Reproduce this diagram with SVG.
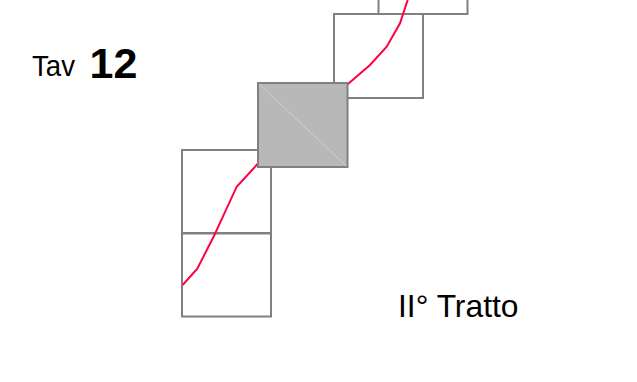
<svg xmlns="http://www.w3.org/2000/svg" width="637" height="382" viewBox="0 0 637 382">
<style>
.box{fill:#ffffff;stroke:#808080;stroke-width:2}
.gray{fill:#b8b8b8;stroke:#808080;stroke-width:2}
.curve{fill:none;stroke:#ff0040;stroke-width:2}
.lbl{font-family:"Liberation Sans",Arial,sans-serif;fill:#000000}
</style>
<rect width="637" height="382" fill="#ffffff"/>
<g id="box-top"><rect class="box" x="378.5" y="-70" width="89" height="84"/></g>
<g id="box-upper"><rect class="box" x="334" y="14" width="89" height="84"/></g>
<g id="box-low1"><rect class="box" x="182" y="150" width="89" height="83"/></g>
<g id="box-low2"><rect class="box" x="182" y="233.5" width="89" height="83"/></g>
<g id="connectors">
<polyline class="curve" points="182.7,285 197.3,268.7 213.3,237.3 236.7,186.7 257.3,164.3 300,125 347.7,84.3 370,65 386.7,46.7 400,23.3 407.7,0"/>
</g>
<g id="box-gray">
<rect class="gray" x="258" y="83" width="89.5" height="84"/>
<line x1="259" y1="84" x2="346.5" y2="166" stroke="#e0d0d4" stroke-width="0.8"/>
</g>
<g id="title">
<text class="lbl" x="32" y="75.5" font-size="29" textLength="43" lengthAdjust="spacingAndGlyphs">Tav</text>
<text class="lbl" x="89.5" y="78" font-size="43" font-weight="bold">12</text>
</g>
<g id="label"><text class="lbl" x="398" y="317" font-size="30.5" textLength="120.5" lengthAdjust="spacingAndGlyphs">II° Tratto</text></g>
</svg>
